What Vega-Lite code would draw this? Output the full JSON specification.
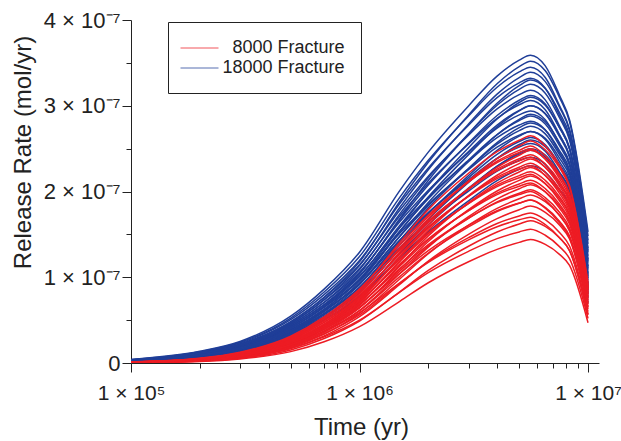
{
"$schema":"https://vega.github.io/schema/vega-lite/v6.json",
"autosize":{"type":"none"},
"padding":{"left":131,"top":20,"right":22,"bottom":78},
"width":468,"height":343,
"config":{"view":{"stroke":null},"font":"Liberation Sans"},
"data":{"values":[
{"s":"8000","i":1,"t":100000,"v":0.0043},{"s":"8000","i":1,"t":200000,"v":0.0187},{"s":"8000","i":1,"t":300000,"v":0.0475},{"s":"8000","i":1,"t":500000,"v":0.1325},{"s":"8000","i":1,"t":700000,"v":0.2477},{"s":"8000","i":1,"t":1000000,"v":0.4248},{"s":"8000","i":1,"t":1500000,"v":0.72},{"s":"8000","i":1,"t":2000000,"v":0.936},{"s":"8000","i":1,"t":3000000,"v":1.1808},{"s":"8000","i":1,"t":4000000,"v":1.3248},{"s":"8000","i":1,"t":5000000,"v":1.4069},{"s":"8000","i":1,"t":5600000,"v":1.44},{"s":"8000","i":1,"t":6500000,"v":1.3824},{"s":"8000","i":1,"t":7500000,"v":1.2672},{"s":"8000","i":1,"t":8300000,"v":1.1376},{"s":"8000","i":1,"t":10000000,"v":0.47},
{"s":"8000","i":2,"t":100000,"v":0.0062},{"s":"8000","i":2,"t":200000,"v":0.0281},{"s":"8000","i":2,"t":300000,"v":0.0655},{"s":"8000","i":2,"t":500000,"v":0.1716},{"s":"8000","i":2,"t":700000,"v":0.3042},{"s":"8000","i":2,"t":1000000,"v":0.4992},{"s":"8000","i":2,"t":1500000,"v":0.8268},{"s":"8000","i":2,"t":2000000,"v":1.053},{"s":"8000","i":2,"t":3000000,"v":1.3026},{"s":"8000","i":2,"t":4000000,"v":1.4508},{"s":"8000","i":2,"t":5000000,"v":1.5288},{"s":"8000","i":2,"t":5600000,"v":1.56},{"s":"8000","i":2,"t":6500000,"v":1.4898},{"s":"8000","i":2,"t":7500000,"v":1.3572},{"s":"8000","i":2,"t":8300000,"v":1.2168},{"s":"8000","i":2,"t":10000000,"v":0.52},
{"s":"8000","i":3,"t":100000,"v":0.005},{"s":"8000","i":3,"t":200000,"v":0.0216},{"s":"8000","i":3,"t":300000,"v":0.0548},{"s":"8000","i":3,"t":500000,"v":0.1527},{"s":"8000","i":3,"t":700000,"v":0.2855},{"s":"8000","i":3,"t":1000000,"v":0.4897},{"s":"8000","i":3,"t":1500000,"v":0.83},{"s":"8000","i":3,"t":2000000,"v":1.079},{"s":"8000","i":3,"t":3000000,"v":1.3612},{"s":"8000","i":3,"t":4000000,"v":1.5272},{"s":"8000","i":3,"t":5000000,"v":1.6218},{"s":"8000","i":3,"t":5600000,"v":1.66},{"s":"8000","i":3,"t":6500000,"v":1.5936},{"s":"8000","i":3,"t":7500000,"v":1.4608},{"s":"8000","i":3,"t":8300000,"v":1.3114},{"s":"8000","i":3,"t":10000000,"v":0.56},
{"s":"8000","i":4,"t":100000,"v":0.007},{"s":"8000","i":4,"t":200000,"v":0.0315},{"s":"8000","i":4,"t":300000,"v":0.0735},{"s":"8000","i":4,"t":500000,"v":0.1925},{"s":"8000","i":4,"t":700000,"v":0.3413},{"s":"8000","i":4,"t":1000000,"v":0.56},{"s":"8000","i":4,"t":1500000,"v":0.9275},{"s":"8000","i":4,"t":2000000,"v":1.1813},{"s":"8000","i":4,"t":3000000,"v":1.4613},{"s":"8000","i":4,"t":4000000,"v":1.6275},{"s":"8000","i":4,"t":5000000,"v":1.715},{"s":"8000","i":4,"t":5600000,"v":1.75},{"s":"8000","i":4,"t":6500000,"v":1.6713},{"s":"8000","i":4,"t":7500000,"v":1.5225},{"s":"8000","i":4,"t":8300000,"v":1.365},{"s":"8000","i":4,"t":10000000,"v":0.6},
{"s":"8000","i":5,"t":100000,"v":0.0055},{"s":"8000","i":5,"t":200000,"v":0.0238},{"s":"8000","i":5,"t":300000,"v":0.0604},{"s":"8000","i":5,"t":500000,"v":0.1684},{"s":"8000","i":5,"t":700000,"v":0.3148},{"s":"8000","i":5,"t":1000000,"v":0.5399},{"s":"8000","i":5,"t":1500000,"v":0.915},{"s":"8000","i":5,"t":2000000,"v":1.1895},{"s":"8000","i":5,"t":3000000,"v":1.5006},{"s":"8000","i":5,"t":4000000,"v":1.6836},{"s":"8000","i":5,"t":5000000,"v":1.7879},{"s":"8000","i":5,"t":5600000,"v":1.83},{"s":"8000","i":5,"t":6500000,"v":1.7568},{"s":"8000","i":5,"t":7500000,"v":1.6104},{"s":"8000","i":5,"t":8300000,"v":1.4457},{"s":"8000","i":5,"t":10000000,"v":0.63},
{"s":"8000","i":6,"t":100000,"v":0.0076},{"s":"8000","i":6,"t":200000,"v":0.0342},{"s":"8000","i":6,"t":300000,"v":0.0798},{"s":"8000","i":6,"t":500000,"v":0.209},{"s":"8000","i":6,"t":700000,"v":0.3705},{"s":"8000","i":6,"t":1000000,"v":0.608},{"s":"8000","i":6,"t":1500000,"v":1.007},{"s":"8000","i":6,"t":2000000,"v":1.2825},{"s":"8000","i":6,"t":3000000,"v":1.5865},{"s":"8000","i":6,"t":4000000,"v":1.767},{"s":"8000","i":6,"t":5000000,"v":1.862},{"s":"8000","i":6,"t":5600000,"v":1.9},{"s":"8000","i":6,"t":6500000,"v":1.8145},{"s":"8000","i":6,"t":7500000,"v":1.653},{"s":"8000","i":6,"t":8300000,"v":1.482},{"s":"8000","i":6,"t":10000000,"v":0.66},
{"s":"8000","i":7,"t":100000,"v":0.0059},{"s":"8000","i":7,"t":200000,"v":0.0255},{"s":"8000","i":7,"t":300000,"v":0.0647},{"s":"8000","i":7,"t":500000,"v":0.1803},{"s":"8000","i":7,"t":700000,"v":0.3371},{"s":"8000","i":7,"t":1000000,"v":0.5782},{"s":"8000","i":7,"t":1500000,"v":0.98},{"s":"8000","i":7,"t":2000000,"v":1.274},{"s":"8000","i":7,"t":3000000,"v":1.6072},{"s":"8000","i":7,"t":4000000,"v":1.8032},{"s":"8000","i":7,"t":5000000,"v":1.9149},{"s":"8000","i":7,"t":5600000,"v":1.96},{"s":"8000","i":7,"t":6500000,"v":1.8816},{"s":"8000","i":7,"t":7500000,"v":1.7248},{"s":"8000","i":7,"t":8300000,"v":1.5484},{"s":"8000","i":7,"t":10000000,"v":0.69},
{"s":"8000","i":8,"t":100000,"v":0.0081},{"s":"8000","i":8,"t":200000,"v":0.0364},{"s":"8000","i":8,"t":300000,"v":0.0848},{"s":"8000","i":8,"t":500000,"v":0.2222},{"s":"8000","i":8,"t":700000,"v":0.3939},{"s":"8000","i":8,"t":1000000,"v":0.6464},{"s":"8000","i":8,"t":1500000,"v":1.0706},{"s":"8000","i":8,"t":2000000,"v":1.3635},{"s":"8000","i":8,"t":3000000,"v":1.6867},{"s":"8000","i":8,"t":4000000,"v":1.8786},{"s":"8000","i":8,"t":5000000,"v":1.9796},{"s":"8000","i":8,"t":5600000,"v":2.02},{"s":"8000","i":8,"t":6500000,"v":1.9291},{"s":"8000","i":8,"t":7500000,"v":1.7574},{"s":"8000","i":8,"t":8300000,"v":1.5756},{"s":"8000","i":8,"t":10000000,"v":0.71},
{"s":"8000","i":9,"t":100000,"v":0.0062},{"s":"8000","i":9,"t":200000,"v":0.027},{"s":"8000","i":9,"t":300000,"v":0.0686},{"s":"8000","i":9,"t":500000,"v":0.1914},{"s":"8000","i":9,"t":700000,"v":0.3578},{"s":"8000","i":9,"t":1000000,"v":0.6136},{"s":"8000","i":9,"t":1500000,"v":1.04},{"s":"8000","i":9,"t":2000000,"v":1.352},{"s":"8000","i":9,"t":3000000,"v":1.7056},{"s":"8000","i":9,"t":4000000,"v":1.9136},{"s":"8000","i":9,"t":5000000,"v":2.0322},{"s":"8000","i":9,"t":5600000,"v":2.08},{"s":"8000","i":9,"t":6500000,"v":1.9968},{"s":"8000","i":9,"t":7500000,"v":1.8304},{"s":"8000","i":9,"t":8300000,"v":1.6432},{"s":"8000","i":9,"t":10000000,"v":0.74},
{"s":"8000","i":10,"t":100000,"v":0.0085},{"s":"8000","i":10,"t":200000,"v":0.0383},{"s":"8000","i":10,"t":300000,"v":0.0895},{"s":"8000","i":10,"t":500000,"v":0.2343},{"s":"8000","i":10,"t":700000,"v":0.4154},{"s":"8000","i":10,"t":1000000,"v":0.6816},{"s":"8000","i":10,"t":1500000,"v":1.1289},{"s":"8000","i":10,"t":2000000,"v":1.4378},{"s":"8000","i":10,"t":3000000,"v":1.7786},{"s":"8000","i":10,"t":4000000,"v":1.9809},{"s":"8000","i":10,"t":5000000,"v":2.0874},{"s":"8000","i":10,"t":5600000,"v":2.13},{"s":"8000","i":10,"t":6500000,"v":2.0342},{"s":"8000","i":10,"t":7500000,"v":1.8531},{"s":"8000","i":10,"t":8300000,"v":1.6614},{"s":"8000","i":10,"t":10000000,"v":0.76},
{"s":"8000","i":11,"t":100000,"v":0.0065},{"s":"8000","i":11,"t":200000,"v":0.0283},{"s":"8000","i":11,"t":300000,"v":0.0719},{"s":"8000","i":11,"t":500000,"v":0.2006},{"s":"8000","i":11,"t":700000,"v":0.375},{"s":"8000","i":11,"t":1000000,"v":0.6431},{"s":"8000","i":11,"t":1500000,"v":1.09},{"s":"8000","i":11,"t":2000000,"v":1.417},{"s":"8000","i":11,"t":3000000,"v":1.7876},{"s":"8000","i":11,"t":4000000,"v":2.0056},{"s":"8000","i":11,"t":5000000,"v":2.1299},{"s":"8000","i":11,"t":5600000,"v":2.18},{"s":"8000","i":11,"t":6500000,"v":2.0928},{"s":"8000","i":11,"t":7500000,"v":1.9184},{"s":"8000","i":11,"t":8300000,"v":1.7222},{"s":"8000","i":11,"t":10000000,"v":0.78},
{"s":"8000","i":12,"t":100000,"v":0.0089},{"s":"8000","i":12,"t":200000,"v":0.0401},{"s":"8000","i":12,"t":300000,"v":0.0937},{"s":"8000","i":12,"t":500000,"v":0.2453},{"s":"8000","i":12,"t":700000,"v":0.4349},{"s":"8000","i":12,"t":1000000,"v":0.7136},{"s":"8000","i":12,"t":1500000,"v":1.1819},{"s":"8000","i":12,"t":2000000,"v":1.5053},{"s":"8000","i":12,"t":3000000,"v":1.8621},{"s":"8000","i":12,"t":4000000,"v":2.0739},{"s":"8000","i":12,"t":5000000,"v":2.1854},{"s":"8000","i":12,"t":5600000,"v":2.23},{"s":"8000","i":12,"t":6500000,"v":2.1297},{"s":"8000","i":12,"t":7500000,"v":1.9401},{"s":"8000","i":12,"t":8300000,"v":1.7394},{"s":"8000","i":12,"t":10000000,"v":0.8},
{"s":"8000","i":13,"t":100000,"v":0.0068},{"s":"8000","i":13,"t":200000,"v":0.0296},{"s":"8000","i":13,"t":300000,"v":0.0752},{"s":"8000","i":13,"t":500000,"v":0.2098},{"s":"8000","i":13,"t":700000,"v":0.3922},{"s":"8000","i":13,"t":1000000,"v":0.6726},{"s":"8000","i":13,"t":1500000,"v":1.14},{"s":"8000","i":13,"t":2000000,"v":1.482},{"s":"8000","i":13,"t":3000000,"v":1.8696},{"s":"8000","i":13,"t":4000000,"v":2.0976},{"s":"8000","i":13,"t":5000000,"v":2.2276},{"s":"8000","i":13,"t":5600000,"v":2.28},{"s":"8000","i":13,"t":6500000,"v":2.1888},{"s":"8000","i":13,"t":7500000,"v":2.0064},{"s":"8000","i":13,"t":8300000,"v":1.8012},{"s":"8000","i":13,"t":10000000,"v":0.82},
{"s":"8000","i":14,"t":100000,"v":0.0093},{"s":"8000","i":14,"t":200000,"v":0.0419},{"s":"8000","i":14,"t":300000,"v":0.0979},{"s":"8000","i":14,"t":500000,"v":0.2563},{"s":"8000","i":14,"t":700000,"v":0.4544},{"s":"8000","i":14,"t":1000000,"v":0.7456},{"s":"8000","i":14,"t":1500000,"v":1.2349},{"s":"8000","i":14,"t":2000000,"v":1.5728},{"s":"8000","i":14,"t":3000000,"v":1.9456},{"s":"8000","i":14,"t":4000000,"v":2.1669},{"s":"8000","i":14,"t":5000000,"v":2.2834},{"s":"8000","i":14,"t":5600000,"v":2.33},{"s":"8000","i":14,"t":6500000,"v":2.2252},{"s":"8000","i":14,"t":7500000,"v":2.0271},{"s":"8000","i":14,"t":8300000,"v":1.8174},{"s":"8000","i":14,"t":10000000,"v":0.84},
{"s":"8000","i":15,"t":100000,"v":0.0071},{"s":"8000","i":15,"t":200000,"v":0.0309},{"s":"8000","i":15,"t":300000,"v":0.0785},{"s":"8000","i":15,"t":500000,"v":0.219},{"s":"8000","i":15,"t":700000,"v":0.4094},{"s":"8000","i":15,"t":1000000,"v":0.7021},{"s":"8000","i":15,"t":1500000,"v":1.19},{"s":"8000","i":15,"t":2000000,"v":1.547},{"s":"8000","i":15,"t":3000000,"v":1.9516},{"s":"8000","i":15,"t":4000000,"v":2.1896},{"s":"8000","i":15,"t":5000000,"v":2.3253},{"s":"8000","i":15,"t":5600000,"v":2.38},{"s":"8000","i":15,"t":6500000,"v":2.2848},{"s":"8000","i":15,"t":7500000,"v":2.0944},{"s":"8000","i":15,"t":8300000,"v":1.8802},{"s":"8000","i":15,"t":10000000,"v":0.86},
{"s":"8000","i":16,"t":100000,"v":0.0097},{"s":"8000","i":16,"t":200000,"v":0.0437},{"s":"8000","i":16,"t":300000,"v":0.1021},{"s":"8000","i":16,"t":500000,"v":0.2673},{"s":"8000","i":16,"t":700000,"v":0.4739},{"s":"8000","i":16,"t":1000000,"v":0.7776},{"s":"8000","i":16,"t":1500000,"v":1.2879},{"s":"8000","i":16,"t":2000000,"v":1.6403},{"s":"8000","i":16,"t":3000000,"v":2.0291},{"s":"8000","i":16,"t":4000000,"v":2.2599},{"s":"8000","i":16,"t":5000000,"v":2.3814},{"s":"8000","i":16,"t":5600000,"v":2.43},{"s":"8000","i":16,"t":6500000,"v":2.3207},{"s":"8000","i":16,"t":7500000,"v":2.1141},{"s":"8000","i":16,"t":8300000,"v":1.8954},{"s":"8000","i":16,"t":10000000,"v":0.87},
{"s":"8000","i":17,"t":100000,"v":0.0074},{"s":"8000","i":17,"t":200000,"v":0.0322},{"s":"8000","i":17,"t":300000,"v":0.0818},{"s":"8000","i":17,"t":500000,"v":0.2282},{"s":"8000","i":17,"t":700000,"v":0.4266},{"s":"8000","i":17,"t":1000000,"v":0.7316},{"s":"8000","i":17,"t":1500000,"v":1.24},{"s":"8000","i":17,"t":2000000,"v":1.612},{"s":"8000","i":17,"t":3000000,"v":2.0336},{"s":"8000","i":17,"t":4000000,"v":2.2816},{"s":"8000","i":17,"t":5000000,"v":2.423},{"s":"8000","i":17,"t":5600000,"v":2.48},{"s":"8000","i":17,"t":6500000,"v":2.3808},{"s":"8000","i":17,"t":7500000,"v":2.1824},{"s":"8000","i":17,"t":8300000,"v":1.9592},{"s":"8000","i":17,"t":10000000,"v":0.89},
{"s":"8000","i":18,"t":100000,"v":0.0101},{"s":"8000","i":18,"t":200000,"v":0.0455},{"s":"8000","i":18,"t":300000,"v":0.1063},{"s":"8000","i":18,"t":500000,"v":0.2783},{"s":"8000","i":18,"t":700000,"v":0.4934},{"s":"8000","i":18,"t":1000000,"v":0.8096},{"s":"8000","i":18,"t":1500000,"v":1.3409},{"s":"8000","i":18,"t":2000000,"v":1.7078},{"s":"8000","i":18,"t":3000000,"v":2.1126},{"s":"8000","i":18,"t":4000000,"v":2.3529},{"s":"8000","i":18,"t":5000000,"v":2.4794},{"s":"8000","i":18,"t":5600000,"v":2.53},{"s":"8000","i":18,"t":6500000,"v":2.4162},{"s":"8000","i":18,"t":7500000,"v":2.2011},{"s":"8000","i":18,"t":8300000,"v":1.9734},{"s":"8000","i":18,"t":10000000,"v":0.9},
{"s":"8000","i":19,"t":100000,"v":0.0078},{"s":"8000","i":19,"t":200000,"v":0.0337},{"s":"8000","i":19,"t":300000,"v":0.0855},{"s":"8000","i":19,"t":500000,"v":0.2383},{"s":"8000","i":19,"t":700000,"v":0.4455},{"s":"8000","i":19,"t":1000000,"v":0.7641},{"s":"8000","i":19,"t":1500000,"v":1.295},{"s":"8000","i":19,"t":2000000,"v":1.6835},{"s":"8000","i":19,"t":3000000,"v":2.1238},{"s":"8000","i":19,"t":4000000,"v":2.3828},{"s":"8000","i":19,"t":5000000,"v":2.5304},{"s":"8000","i":19,"t":5600000,"v":2.59},{"s":"8000","i":19,"t":6500000,"v":2.4864},{"s":"8000","i":19,"t":7500000,"v":2.2792},{"s":"8000","i":19,"t":8300000,"v":2.0461},{"s":"8000","i":19,"t":10000000,"v":0.92},
{"s":"8000","i":20,"t":100000,"v":0.0106},{"s":"8000","i":20,"t":200000,"v":0.0477},{"s":"8000","i":20,"t":300000,"v":0.1113},{"s":"8000","i":20,"t":500000,"v":0.2915},{"s":"8000","i":20,"t":700000,"v":0.5168},{"s":"8000","i":20,"t":1000000,"v":0.848},{"s":"8000","i":20,"t":1500000,"v":1.4045},{"s":"8000","i":20,"t":2000000,"v":1.7888},{"s":"8000","i":20,"t":3000000,"v":2.2128},{"s":"8000","i":20,"t":4000000,"v":2.4645},{"s":"8000","i":20,"t":5000000,"v":2.597},{"s":"8000","i":20,"t":5600000,"v":2.65},{"s":"8000","i":20,"t":6500000,"v":2.5308},{"s":"8000","i":20,"t":7500000,"v":2.3055},{"s":"8000","i":20,"t":8300000,"v":2.067},{"s":"8000","i":20,"t":10000000,"v":0.94},
{"s":"8000","i":41,"t":100000,"v":0.0085},{"s":"8000","i":41,"t":200000,"v":0.0374},{"s":"8000","i":41,"t":300000,"v":0.085},{"s":"8000","i":41,"t":500000,"v":0.2125},{"s":"8000","i":41,"t":700000,"v":0.3655},{"s":"8000","i":41,"t":1000000,"v":0.5865},{"s":"8000","i":41,"t":1500000,"v":0.935},{"s":"8000","i":41,"t":2000000,"v":1.173},{"s":"8000","i":41,"t":3000000,"v":1.4365},{"s":"8000","i":41,"t":4000000,"v":1.5895},{"s":"8000","i":41,"t":5000000,"v":1.6694},{"s":"8000","i":41,"t":5600000,"v":1.7},{"s":"8000","i":41,"t":6500000,"v":1.615},{"s":"8000","i":41,"t":7500000,"v":1.462},{"s":"8000","i":41,"t":8300000,"v":1.309},{"s":"8000","i":41,"t":10000000,"v":0.57},
{"s":"8000","i":42,"t":100000,"v":0.0095},{"s":"8000","i":42,"t":200000,"v":0.0418},{"s":"8000","i":42,"t":300000,"v":0.095},{"s":"8000","i":42,"t":500000,"v":0.2375},{"s":"8000","i":42,"t":700000,"v":0.4085},{"s":"8000","i":42,"t":1000000,"v":0.6555},{"s":"8000","i":42,"t":1500000,"v":1.045},{"s":"8000","i":42,"t":2000000,"v":1.311},{"s":"8000","i":42,"t":3000000,"v":1.6055},{"s":"8000","i":42,"t":4000000,"v":1.7765},{"s":"8000","i":42,"t":5000000,"v":1.8658},{"s":"8000","i":42,"t":5600000,"v":1.9},{"s":"8000","i":42,"t":6500000,"v":1.805},{"s":"8000","i":42,"t":7500000,"v":1.634},{"s":"8000","i":42,"t":8300000,"v":1.463},{"s":"8000","i":42,"t":10000000,"v":0.65},
{"s":"8000","i":43,"t":100000,"v":0.01},{"s":"8000","i":43,"t":200000,"v":0.044},{"s":"8000","i":43,"t":300000,"v":0.1},{"s":"8000","i":43,"t":500000,"v":0.25},{"s":"8000","i":43,"t":700000,"v":0.43},{"s":"8000","i":43,"t":1000000,"v":0.69},{"s":"8000","i":43,"t":1500000,"v":1.1},{"s":"8000","i":43,"t":2000000,"v":1.38},{"s":"8000","i":43,"t":3000000,"v":1.69},{"s":"8000","i":43,"t":4000000,"v":1.87},{"s":"8000","i":43,"t":5000000,"v":1.964},{"s":"8000","i":43,"t":5600000,"v":2.0},{"s":"8000","i":43,"t":6500000,"v":1.9},{"s":"8000","i":43,"t":7500000,"v":1.72},{"s":"8000","i":43,"t":8300000,"v":1.54},{"s":"8000","i":43,"t":10000000,"v":0.69},
{"s":"8000","i":44,"t":100000,"v":0.0105},{"s":"8000","i":44,"t":200000,"v":0.0462},{"s":"8000","i":44,"t":300000,"v":0.105},{"s":"8000","i":44,"t":500000,"v":0.2625},{"s":"8000","i":44,"t":700000,"v":0.4515},{"s":"8000","i":44,"t":1000000,"v":0.7245},{"s":"8000","i":44,"t":1500000,"v":1.155},{"s":"8000","i":44,"t":2000000,"v":1.449},{"s":"8000","i":44,"t":3000000,"v":1.7745},{"s":"8000","i":44,"t":4000000,"v":1.9635},{"s":"8000","i":44,"t":5000000,"v":2.0622},{"s":"8000","i":44,"t":5600000,"v":2.1},{"s":"8000","i":44,"t":6500000,"v":1.995},{"s":"8000","i":44,"t":7500000,"v":1.806},{"s":"8000","i":44,"t":8300000,"v":1.617},{"s":"8000","i":44,"t":10000000,"v":0.73},
{"s":"8000","i":45,"t":100000,"v":0.011},{"s":"8000","i":45,"t":200000,"v":0.0484},{"s":"8000","i":45,"t":300000,"v":0.11},{"s":"8000","i":45,"t":500000,"v":0.275},{"s":"8000","i":45,"t":700000,"v":0.473},{"s":"8000","i":45,"t":1000000,"v":0.759},{"s":"8000","i":45,"t":1500000,"v":1.21},{"s":"8000","i":45,"t":2000000,"v":1.518},{"s":"8000","i":45,"t":3000000,"v":1.859},{"s":"8000","i":45,"t":4000000,"v":2.057},{"s":"8000","i":45,"t":5000000,"v":2.1604},{"s":"8000","i":45,"t":5600000,"v":2.2},{"s":"8000","i":45,"t":6500000,"v":2.09},{"s":"8000","i":45,"t":7500000,"v":1.892},{"s":"8000","i":45,"t":8300000,"v":1.694},{"s":"8000","i":45,"t":10000000,"v":0.77},
{"s":"8000","i":46,"t":100000,"v":0.0115},{"s":"8000","i":46,"t":200000,"v":0.0506},{"s":"8000","i":46,"t":300000,"v":0.115},{"s":"8000","i":46,"t":500000,"v":0.2875},{"s":"8000","i":46,"t":700000,"v":0.4945},{"s":"8000","i":46,"t":1000000,"v":0.7935},{"s":"8000","i":46,"t":1500000,"v":1.265},{"s":"8000","i":46,"t":2000000,"v":1.587},{"s":"8000","i":46,"t":3000000,"v":1.9435},{"s":"8000","i":46,"t":4000000,"v":2.1505},{"s":"8000","i":46,"t":5000000,"v":2.2586},{"s":"8000","i":46,"t":5600000,"v":2.3},{"s":"8000","i":46,"t":6500000,"v":2.185},{"s":"8000","i":46,"t":7500000,"v":1.978},{"s":"8000","i":46,"t":8300000,"v":1.771},{"s":"8000","i":46,"t":10000000,"v":0.81},
{"s":"8000","i":47,"t":100000,"v":0.012},{"s":"8000","i":47,"t":200000,"v":0.0528},{"s":"8000","i":47,"t":300000,"v":0.12},{"s":"8000","i":47,"t":500000,"v":0.3},{"s":"8000","i":47,"t":700000,"v":0.516},{"s":"8000","i":47,"t":1000000,"v":0.828},{"s":"8000","i":47,"t":1500000,"v":1.32},{"s":"8000","i":47,"t":2000000,"v":1.656},{"s":"8000","i":47,"t":3000000,"v":2.028},{"s":"8000","i":47,"t":4000000,"v":2.244},{"s":"8000","i":47,"t":5000000,"v":2.3568},{"s":"8000","i":47,"t":5600000,"v":2.4},{"s":"8000","i":47,"t":6500000,"v":2.28},{"s":"8000","i":47,"t":7500000,"v":2.064},{"s":"8000","i":47,"t":8300000,"v":1.848},{"s":"8000","i":47,"t":10000000,"v":0.85},
{"s":"8000","i":48,"t":100000,"v":0.0125},{"s":"8000","i":48,"t":200000,"v":0.055},{"s":"8000","i":48,"t":300000,"v":0.125},{"s":"8000","i":48,"t":500000,"v":0.3125},{"s":"8000","i":48,"t":700000,"v":0.5375},{"s":"8000","i":48,"t":1000000,"v":0.8625},{"s":"8000","i":48,"t":1500000,"v":1.375},{"s":"8000","i":48,"t":2000000,"v":1.725},{"s":"8000","i":48,"t":3000000,"v":2.1125},{"s":"8000","i":48,"t":4000000,"v":2.3375},{"s":"8000","i":48,"t":5000000,"v":2.455},{"s":"8000","i":48,"t":5600000,"v":2.5},{"s":"8000","i":48,"t":6500000,"v":2.375},{"s":"8000","i":48,"t":7500000,"v":2.15},{"s":"8000","i":48,"t":8300000,"v":1.925},{"s":"8000","i":48,"t":10000000,"v":0.88},
{"s":"18000","i":21,"t":100000,"v":0.0207},{"s":"18000","i":21,"t":200000,"v":0.0736},{"s":"18000","i":21,"t":300000,"v":0.138},{"s":"18000","i":21,"t":500000,"v":0.3105},{"s":"18000","i":21,"t":700000,"v":0.5014},{"s":"18000","i":21,"t":1000000,"v":0.7705},{"s":"18000","i":21,"t":1500000,"v":1.2305},{"s":"18000","i":21,"t":2000000,"v":1.5295},{"s":"18000","i":21,"t":3000000,"v":1.8906},{"s":"18000","i":21,"t":4000000,"v":2.1275},{"s":"18000","i":21,"t":5000000,"v":2.2586},{"s":"18000","i":21,"t":5600000,"v":2.3},{"s":"18000","i":21,"t":6500000,"v":2.2264},{"s":"18000","i":21,"t":7500000,"v":2.024},{"s":"18000","i":21,"t":8300000,"v":1.84},{"s":"18000","i":21,"t":10000000,"v":0.7},
{"s":"18000","i":22,"t":100000,"v":0.0264},{"s":"18000","i":22,"t":200000,"v":0.0912},{"s":"18000","i":22,"t":300000,"v":0.168},{"s":"18000","i":22,"t":500000,"v":0.3648},{"s":"18000","i":22,"t":700000,"v":0.576},{"s":"18000","i":22,"t":1000000,"v":0.864},{"s":"18000","i":22,"t":1500000,"v":1.344},{"s":"18000","i":22,"t":2000000,"v":1.644},{"s":"18000","i":22,"t":3000000,"v":2.004},{"s":"18000","i":22,"t":4000000,"v":2.2368},{"s":"18000","i":22,"t":5000000,"v":2.3616},{"s":"18000","i":22,"t":5600000,"v":2.4},{"s":"18000","i":22,"t":6500000,"v":2.316},{"s":"18000","i":22,"t":7500000,"v":2.088},{"s":"18000","i":22,"t":8300000,"v":1.896},{"s":"18000","i":22,"t":10000000,"v":0.76},
{"s":"18000","i":23,"t":100000,"v":0.0223},{"s":"18000","i":23,"t":200000,"v":0.0794},{"s":"18000","i":23,"t":300000,"v":0.1488},{"s":"18000","i":23,"t":500000,"v":0.3348},{"s":"18000","i":23,"t":700000,"v":0.5406},{"s":"18000","i":23,"t":1000000,"v":0.8308},{"s":"18000","i":23,"t":1500000,"v":1.3268},{"s":"18000","i":23,"t":2000000,"v":1.6492},{"s":"18000","i":23,"t":3000000,"v":2.0386},{"s":"18000","i":23,"t":4000000,"v":2.294},{"s":"18000","i":23,"t":5000000,"v":2.4354},{"s":"18000","i":23,"t":5600000,"v":2.48},{"s":"18000","i":23,"t":6500000,"v":2.4006},{"s":"18000","i":23,"t":7500000,"v":2.1824},{"s":"18000","i":23,"t":8300000,"v":1.984},{"s":"18000","i":23,"t":10000000,"v":0.8},
{"s":"18000","i":24,"t":100000,"v":0.0282},{"s":"18000","i":24,"t":200000,"v":0.0973},{"s":"18000","i":24,"t":300000,"v":0.1792},{"s":"18000","i":24,"t":500000,"v":0.3891},{"s":"18000","i":24,"t":700000,"v":0.6144},{"s":"18000","i":24,"t":1000000,"v":0.9216},{"s":"18000","i":24,"t":1500000,"v":1.4336},{"s":"18000","i":24,"t":2000000,"v":1.7536},{"s":"18000","i":24,"t":3000000,"v":2.1376},{"s":"18000","i":24,"t":4000000,"v":2.3859},{"s":"18000","i":24,"t":5000000,"v":2.519},{"s":"18000","i":24,"t":5600000,"v":2.56},{"s":"18000","i":24,"t":6500000,"v":2.4704},{"s":"18000","i":24,"t":7500000,"v":2.2272},{"s":"18000","i":24,"t":8300000,"v":2.0224},{"s":"18000","i":24,"t":10000000,"v":0.85},
{"s":"18000","i":25,"t":100000,"v":0.0237},{"s":"18000","i":25,"t":200000,"v":0.0842},{"s":"18000","i":25,"t":300000,"v":0.1578},{"s":"18000","i":25,"t":500000,"v":0.3551},{"s":"18000","i":25,"t":700000,"v":0.5733},{"s":"18000","i":25,"t":1000000,"v":0.8811},{"s":"18000","i":25,"t":1500000,"v":1.4071},{"s":"18000","i":25,"t":2000000,"v":1.749},{"s":"18000","i":25,"t":3000000,"v":2.1619},{"s":"18000","i":25,"t":4000000,"v":2.4328},{"s":"18000","i":25,"t":5000000,"v":2.5827},{"s":"18000","i":25,"t":5600000,"v":2.63},{"s":"18000","i":25,"t":6500000,"v":2.5458},{"s":"18000","i":25,"t":7500000,"v":2.3144},{"s":"18000","i":25,"t":8300000,"v":2.104},{"s":"18000","i":25,"t":10000000,"v":0.89},
{"s":"18000","i":26,"t":100000,"v":0.0297},{"s":"18000","i":26,"t":200000,"v":0.1026},{"s":"18000","i":26,"t":300000,"v":0.189},{"s":"18000","i":26,"t":500000,"v":0.4104},{"s":"18000","i":26,"t":700000,"v":0.648},{"s":"18000","i":26,"t":1000000,"v":0.972},{"s":"18000","i":26,"t":1500000,"v":1.512},{"s":"18000","i":26,"t":2000000,"v":1.8495},{"s":"18000","i":26,"t":3000000,"v":2.2545},{"s":"18000","i":26,"t":4000000,"v":2.5164},{"s":"18000","i":26,"t":5000000,"v":2.6568},{"s":"18000","i":26,"t":5600000,"v":2.7},{"s":"18000","i":26,"t":6500000,"v":2.6055},{"s":"18000","i":26,"t":7500000,"v":2.349},{"s":"18000","i":26,"t":8300000,"v":2.133},{"s":"18000","i":26,"t":10000000,"v":0.93},
{"s":"18000","i":27,"t":100000,"v":0.0248},{"s":"18000","i":27,"t":200000,"v":0.0883},{"s":"18000","i":27,"t":300000,"v":0.1656},{"s":"18000","i":27,"t":500000,"v":0.3726},{"s":"18000","i":27,"t":700000,"v":0.6017},{"s":"18000","i":27,"t":1000000,"v":0.9246},{"s":"18000","i":27,"t":1500000,"v":1.4766},{"s":"18000","i":27,"t":2000000,"v":1.8354},{"s":"18000","i":27,"t":3000000,"v":2.2687},{"s":"18000","i":27,"t":4000000,"v":2.553},{"s":"18000","i":27,"t":5000000,"v":2.7103},{"s":"18000","i":27,"t":5600000,"v":2.76},{"s":"18000","i":27,"t":6500000,"v":2.6717},{"s":"18000","i":27,"t":7500000,"v":2.4288},{"s":"18000","i":27,"t":8300000,"v":2.208},{"s":"18000","i":27,"t":10000000,"v":0.97},
{"s":"18000","i":28,"t":100000,"v":0.031},{"s":"18000","i":28,"t":200000,"v":0.1072},{"s":"18000","i":28,"t":300000,"v":0.1974},{"s":"18000","i":28,"t":500000,"v":0.4286},{"s":"18000","i":28,"t":700000,"v":0.6768},{"s":"18000","i":28,"t":1000000,"v":1.0152},{"s":"18000","i":28,"t":1500000,"v":1.5792},{"s":"18000","i":28,"t":2000000,"v":1.9317},{"s":"18000","i":28,"t":3000000,"v":2.3547},{"s":"18000","i":28,"t":4000000,"v":2.6282},{"s":"18000","i":28,"t":5000000,"v":2.7749},{"s":"18000","i":28,"t":5600000,"v":2.82},{"s":"18000","i":28,"t":6500000,"v":2.7213},{"s":"18000","i":28,"t":7500000,"v":2.4534},{"s":"18000","i":28,"t":8300000,"v":2.2278},{"s":"18000","i":28,"t":10000000,"v":1.01},
{"s":"18000","i":29,"t":100000,"v":0.0259},{"s":"18000","i":29,"t":200000,"v":0.0922},{"s":"18000","i":29,"t":300000,"v":0.1728},{"s":"18000","i":29,"t":500000,"v":0.3888},{"s":"18000","i":29,"t":700000,"v":0.6278},{"s":"18000","i":29,"t":1000000,"v":0.9648},{"s":"18000","i":29,"t":1500000,"v":1.5408},{"s":"18000","i":29,"t":2000000,"v":1.9152},{"s":"18000","i":29,"t":3000000,"v":2.3674},{"s":"18000","i":29,"t":4000000,"v":2.664},{"s":"18000","i":29,"t":5000000,"v":2.8282},{"s":"18000","i":29,"t":5600000,"v":2.88},{"s":"18000","i":29,"t":6500000,"v":2.7878},{"s":"18000","i":29,"t":7500000,"v":2.5344},{"s":"18000","i":29,"t":8300000,"v":2.304},{"s":"18000","i":29,"t":10000000,"v":1.05},
{"s":"18000","i":30,"t":100000,"v":0.0323},{"s":"18000","i":30,"t":200000,"v":0.1117},{"s":"18000","i":30,"t":300000,"v":0.2058},{"s":"18000","i":30,"t":500000,"v":0.4469},{"s":"18000","i":30,"t":700000,"v":0.7056},{"s":"18000","i":30,"t":1000000,"v":1.0584},{"s":"18000","i":30,"t":1500000,"v":1.6464},{"s":"18000","i":30,"t":2000000,"v":2.0139},{"s":"18000","i":30,"t":3000000,"v":2.4549},{"s":"18000","i":30,"t":4000000,"v":2.7401},{"s":"18000","i":30,"t":5000000,"v":2.893},{"s":"18000","i":30,"t":5600000,"v":2.94},{"s":"18000","i":30,"t":6500000,"v":2.8371},{"s":"18000","i":30,"t":7500000,"v":2.5578},{"s":"18000","i":30,"t":8300000,"v":2.3226},{"s":"18000","i":30,"t":10000000,"v":1.09},
{"s":"18000","i":31,"t":100000,"v":0.027},{"s":"18000","i":31,"t":200000,"v":0.096},{"s":"18000","i":31,"t":300000,"v":0.18},{"s":"18000","i":31,"t":500000,"v":0.405},{"s":"18000","i":31,"t":700000,"v":0.654},{"s":"18000","i":31,"t":1000000,"v":1.005},{"s":"18000","i":31,"t":1500000,"v":1.605},{"s":"18000","i":31,"t":2000000,"v":1.995},{"s":"18000","i":31,"t":3000000,"v":2.466},{"s":"18000","i":31,"t":4000000,"v":2.775},{"s":"18000","i":31,"t":5000000,"v":2.946},{"s":"18000","i":31,"t":5600000,"v":3.0},{"s":"18000","i":31,"t":6500000,"v":2.904},{"s":"18000","i":31,"t":7500000,"v":2.64},{"s":"18000","i":31,"t":8300000,"v":2.4},{"s":"18000","i":31,"t":10000000,"v":1.13},
{"s":"18000","i":32,"t":100000,"v":0.0337},{"s":"18000","i":32,"t":200000,"v":0.1163},{"s":"18000","i":32,"t":300000,"v":0.2142},{"s":"18000","i":32,"t":500000,"v":0.4651},{"s":"18000","i":32,"t":700000,"v":0.7344},{"s":"18000","i":32,"t":1000000,"v":1.1016},{"s":"18000","i":32,"t":1500000,"v":1.7136},{"s":"18000","i":32,"t":2000000,"v":2.0961},{"s":"18000","i":32,"t":3000000,"v":2.5551},{"s":"18000","i":32,"t":4000000,"v":2.8519},{"s":"18000","i":32,"t":5000000,"v":3.011},{"s":"18000","i":32,"t":5600000,"v":3.06},{"s":"18000","i":32,"t":6500000,"v":2.9529},{"s":"18000","i":32,"t":7500000,"v":2.6622},{"s":"18000","i":32,"t":8300000,"v":2.4174},{"s":"18000","i":32,"t":10000000,"v":1.17},
{"s":"18000","i":33,"t":100000,"v":0.0281},{"s":"18000","i":33,"t":200000,"v":0.0998},{"s":"18000","i":33,"t":300000,"v":0.1872},{"s":"18000","i":33,"t":500000,"v":0.4212},{"s":"18000","i":33,"t":700000,"v":0.6802},{"s":"18000","i":33,"t":1000000,"v":1.0452},{"s":"18000","i":33,"t":1500000,"v":1.6692},{"s":"18000","i":33,"t":2000000,"v":2.0748},{"s":"18000","i":33,"t":3000000,"v":2.5646},{"s":"18000","i":33,"t":4000000,"v":2.886},{"s":"18000","i":33,"t":5000000,"v":3.0638},{"s":"18000","i":33,"t":5600000,"v":3.12},{"s":"18000","i":33,"t":6500000,"v":3.0202},{"s":"18000","i":33,"t":7500000,"v":2.7456},{"s":"18000","i":33,"t":8300000,"v":2.496},{"s":"18000","i":33,"t":10000000,"v":1.21},
{"s":"18000","i":34,"t":100000,"v":0.035},{"s":"18000","i":34,"t":200000,"v":0.1208},{"s":"18000","i":34,"t":300000,"v":0.2226},{"s":"18000","i":34,"t":500000,"v":0.4834},{"s":"18000","i":34,"t":700000,"v":0.7632},{"s":"18000","i":34,"t":1000000,"v":1.1448},{"s":"18000","i":34,"t":1500000,"v":1.7808},{"s":"18000","i":34,"t":2000000,"v":2.1783},{"s":"18000","i":34,"t":3000000,"v":2.6553},{"s":"18000","i":34,"t":4000000,"v":2.9638},{"s":"18000","i":34,"t":5000000,"v":3.1291},{"s":"18000","i":34,"t":5600000,"v":3.18},{"s":"18000","i":34,"t":6500000,"v":3.0687},{"s":"18000","i":34,"t":7500000,"v":2.7666},{"s":"18000","i":34,"t":8300000,"v":2.5122},{"s":"18000","i":34,"t":10000000,"v":1.25},
{"s":"18000","i":35,"t":100000,"v":0.0293},{"s":"18000","i":35,"t":200000,"v":0.104},{"s":"18000","i":35,"t":300000,"v":0.195},{"s":"18000","i":35,"t":500000,"v":0.4388},{"s":"18000","i":35,"t":700000,"v":0.7085},{"s":"18000","i":35,"t":1000000,"v":1.0888},{"s":"18000","i":35,"t":1500000,"v":1.7388},{"s":"18000","i":35,"t":2000000,"v":2.1613},{"s":"18000","i":35,"t":3000000,"v":2.6715},{"s":"18000","i":35,"t":4000000,"v":3.0063},{"s":"18000","i":35,"t":5000000,"v":3.1915},{"s":"18000","i":35,"t":5600000,"v":3.25},{"s":"18000","i":35,"t":6500000,"v":3.146},{"s":"18000","i":35,"t":7500000,"v":2.86},{"s":"18000","i":35,"t":8300000,"v":2.6},{"s":"18000","i":35,"t":10000000,"v":1.29},
{"s":"18000","i":36,"t":100000,"v":0.0365},{"s":"18000","i":36,"t":200000,"v":0.1262},{"s":"18000","i":36,"t":300000,"v":0.2324},{"s":"18000","i":36,"t":500000,"v":0.5046},{"s":"18000","i":36,"t":700000,"v":0.7968},{"s":"18000","i":36,"t":1000000,"v":1.1952},{"s":"18000","i":36,"t":1500000,"v":1.8592},{"s":"18000","i":36,"t":2000000,"v":2.2742},{"s":"18000","i":36,"t":3000000,"v":2.7722},{"s":"18000","i":36,"t":4000000,"v":3.0942},{"s":"18000","i":36,"t":5000000,"v":3.2669},{"s":"18000","i":36,"t":5600000,"v":3.32},{"s":"18000","i":36,"t":6500000,"v":3.2038},{"s":"18000","i":36,"t":7500000,"v":2.8884},{"s":"18000","i":36,"t":8300000,"v":2.6228},{"s":"18000","i":36,"t":10000000,"v":1.34},
{"s":"18000","i":37,"t":100000,"v":0.0305},{"s":"18000","i":37,"t":200000,"v":0.1085},{"s":"18000","i":37,"t":300000,"v":0.2034},{"s":"18000","i":37,"t":500000,"v":0.4577},{"s":"18000","i":37,"t":700000,"v":0.739},{"s":"18000","i":37,"t":1000000,"v":1.1357},{"s":"18000","i":37,"t":1500000,"v":1.8137},{"s":"18000","i":37,"t":2000000,"v":2.2544},{"s":"18000","i":37,"t":3000000,"v":2.7866},{"s":"18000","i":37,"t":4000000,"v":3.1358},{"s":"18000","i":37,"t":5000000,"v":3.329},{"s":"18000","i":37,"t":5600000,"v":3.39},{"s":"18000","i":37,"t":6500000,"v":3.2815},{"s":"18000","i":37,"t":7500000,"v":2.9832},{"s":"18000","i":37,"t":8300000,"v":2.712},{"s":"18000","i":37,"t":10000000,"v":1.39},
{"s":"18000","i":38,"t":100000,"v":0.038},{"s":"18000","i":38,"t":200000,"v":0.1311},{"s":"18000","i":38,"t":300000,"v":0.2415},{"s":"18000","i":38,"t":500000,"v":0.5244},{"s":"18000","i":38,"t":700000,"v":0.828},{"s":"18000","i":38,"t":1000000,"v":1.242},{"s":"18000","i":38,"t":1500000,"v":1.932},{"s":"18000","i":38,"t":2000000,"v":2.3633},{"s":"18000","i":38,"t":3000000,"v":2.8808},{"s":"18000","i":38,"t":4000000,"v":3.2154},{"s":"18000","i":38,"t":5000000,"v":3.3948},{"s":"18000","i":38,"t":5600000,"v":3.45},{"s":"18000","i":38,"t":6500000,"v":3.3293},{"s":"18000","i":38,"t":7500000,"v":3.0015},{"s":"18000","i":38,"t":8300000,"v":2.7255},{"s":"18000","i":38,"t":10000000,"v":1.43},
{"s":"18000","i":39,"t":100000,"v":0.0317},{"s":"18000","i":39,"t":200000,"v":0.1126},{"s":"18000","i":39,"t":300000,"v":0.2112},{"s":"18000","i":39,"t":500000,"v":0.4752},{"s":"18000","i":39,"t":700000,"v":0.7674},{"s":"18000","i":39,"t":1000000,"v":1.1792},{"s":"18000","i":39,"t":1500000,"v":1.8832},{"s":"18000","i":39,"t":2000000,"v":2.3408},{"s":"18000","i":39,"t":3000000,"v":2.8934},{"s":"18000","i":39,"t":4000000,"v":3.256},{"s":"18000","i":39,"t":5000000,"v":3.4566},{"s":"18000","i":39,"t":5600000,"v":3.52},{"s":"18000","i":39,"t":6500000,"v":3.4074},{"s":"18000","i":39,"t":7500000,"v":3.0976},{"s":"18000","i":39,"t":8300000,"v":2.816},{"s":"18000","i":39,"t":10000000,"v":1.48},
{"s":"18000","i":40,"t":100000,"v":0.0395},{"s":"18000","i":40,"t":200000,"v":0.1364},{"s":"18000","i":40,"t":300000,"v":0.2513},{"s":"18000","i":40,"t":500000,"v":0.5457},{"s":"18000","i":40,"t":700000,"v":0.8616},{"s":"18000","i":40,"t":1000000,"v":1.2924},{"s":"18000","i":40,"t":1500000,"v":2.0104},{"s":"18000","i":40,"t":2000000,"v":2.4592},{"s":"18000","i":40,"t":3000000,"v":2.9977},{"s":"18000","i":40,"t":4000000,"v":3.3459},{"s":"18000","i":40,"t":5000000,"v":3.5326},{"s":"18000","i":40,"t":5600000,"v":3.59},{"s":"18000","i":40,"t":6500000,"v":3.4644},{"s":"18000","i":40,"t":7500000,"v":3.1233},{"s":"18000","i":40,"t":8300000,"v":2.8361},{"s":"18000","i":40,"t":10000000,"v":1.53},
{"s":"18000","i":49,"t":100000,"v":0.02},{"s":"18000","i":49,"t":200000,"v":0.07},{"s":"18000","i":49,"t":300000,"v":0.1325},{"s":"18000","i":49,"t":500000,"v":0.305},{"s":"18000","i":49,"t":700000,"v":0.5},{"s":"18000","i":49,"t":1000000,"v":0.7875},{"s":"18000","i":49,"t":1500000,"v":1.275},{"s":"18000","i":49,"t":2000000,"v":1.6125},{"s":"18000","i":49,"t":3000000,"v":2.025},{"s":"18000","i":49,"t":4000000,"v":2.295},{"s":"18000","i":49,"t":5000000,"v":2.45},{"s":"18000","i":49,"t":5600000,"v":2.5},{"s":"18000","i":49,"t":6500000,"v":2.425},{"s":"18000","i":49,"t":7500000,"v":2.2125},{"s":"18000","i":49,"t":8300000,"v":2.0125},{"s":"18000","i":49,"t":10000000,"v":0.82},
{"s":"18000","i":50,"t":100000,"v":0.0208},{"s":"18000","i":50,"t":200000,"v":0.0728},{"s":"18000","i":50,"t":300000,"v":0.1378},{"s":"18000","i":50,"t":500000,"v":0.3172},{"s":"18000","i":50,"t":700000,"v":0.52},{"s":"18000","i":50,"t":1000000,"v":0.819},{"s":"18000","i":50,"t":1500000,"v":1.326},{"s":"18000","i":50,"t":2000000,"v":1.677},{"s":"18000","i":50,"t":3000000,"v":2.106},{"s":"18000","i":50,"t":4000000,"v":2.3868},{"s":"18000","i":50,"t":5000000,"v":2.548},{"s":"18000","i":50,"t":5600000,"v":2.6},{"s":"18000","i":50,"t":6500000,"v":2.522},{"s":"18000","i":50,"t":7500000,"v":2.301},{"s":"18000","i":50,"t":8300000,"v":2.093},{"s":"18000","i":50,"t":10000000,"v":0.87},
{"s":"18000","i":51,"t":100000,"v":0.0216},{"s":"18000","i":51,"t":200000,"v":0.0756},{"s":"18000","i":51,"t":300000,"v":0.1431},{"s":"18000","i":51,"t":500000,"v":0.3294},{"s":"18000","i":51,"t":700000,"v":0.54},{"s":"18000","i":51,"t":1000000,"v":0.8505},{"s":"18000","i":51,"t":1500000,"v":1.377},{"s":"18000","i":51,"t":2000000,"v":1.7415},{"s":"18000","i":51,"t":3000000,"v":2.187},{"s":"18000","i":51,"t":4000000,"v":2.4786},{"s":"18000","i":51,"t":5000000,"v":2.646},{"s":"18000","i":51,"t":5600000,"v":2.7},{"s":"18000","i":51,"t":6500000,"v":2.619},{"s":"18000","i":51,"t":7500000,"v":2.3895},{"s":"18000","i":51,"t":8300000,"v":2.1735},{"s":"18000","i":51,"t":10000000,"v":0.91},
{"s":"18000","i":52,"t":100000,"v":0.0224},{"s":"18000","i":52,"t":200000,"v":0.0784},{"s":"18000","i":52,"t":300000,"v":0.1484},{"s":"18000","i":52,"t":500000,"v":0.3416},{"s":"18000","i":52,"t":700000,"v":0.56},{"s":"18000","i":52,"t":1000000,"v":0.882},{"s":"18000","i":52,"t":1500000,"v":1.428},{"s":"18000","i":52,"t":2000000,"v":1.806},{"s":"18000","i":52,"t":3000000,"v":2.268},{"s":"18000","i":52,"t":4000000,"v":2.5704},{"s":"18000","i":52,"t":5000000,"v":2.744},{"s":"18000","i":52,"t":5600000,"v":2.8},{"s":"18000","i":52,"t":6500000,"v":2.716},{"s":"18000","i":52,"t":7500000,"v":2.478},{"s":"18000","i":52,"t":8300000,"v":2.254},{"s":"18000","i":52,"t":10000000,"v":0.99},
{"s":"18000","i":53,"t":100000,"v":0.0232},{"s":"18000","i":53,"t":200000,"v":0.0812},{"s":"18000","i":53,"t":300000,"v":0.1537},{"s":"18000","i":53,"t":500000,"v":0.3538},{"s":"18000","i":53,"t":700000,"v":0.58},{"s":"18000","i":53,"t":1000000,"v":0.9135},{"s":"18000","i":53,"t":1500000,"v":1.479},{"s":"18000","i":53,"t":2000000,"v":1.8705},{"s":"18000","i":53,"t":3000000,"v":2.349},{"s":"18000","i":53,"t":4000000,"v":2.6622},{"s":"18000","i":53,"t":5000000,"v":2.842},{"s":"18000","i":53,"t":5600000,"v":2.9},{"s":"18000","i":53,"t":6500000,"v":2.813},{"s":"18000","i":53,"t":7500000,"v":2.5665},{"s":"18000","i":53,"t":8300000,"v":2.3345},{"s":"18000","i":53,"t":10000000,"v":1.03},
{"s":"18000","i":54,"t":100000,"v":0.024},{"s":"18000","i":54,"t":200000,"v":0.084},{"s":"18000","i":54,"t":300000,"v":0.159},{"s":"18000","i":54,"t":500000,"v":0.366},{"s":"18000","i":54,"t":700000,"v":0.6},{"s":"18000","i":54,"t":1000000,"v":0.945},{"s":"18000","i":54,"t":1500000,"v":1.53},{"s":"18000","i":54,"t":2000000,"v":1.935},{"s":"18000","i":54,"t":3000000,"v":2.43},{"s":"18000","i":54,"t":4000000,"v":2.754},{"s":"18000","i":54,"t":5000000,"v":2.94},{"s":"18000","i":54,"t":5600000,"v":3.0},{"s":"18000","i":54,"t":6500000,"v":2.91},{"s":"18000","i":54,"t":7500000,"v":2.655},{"s":"18000","i":54,"t":8300000,"v":2.415},{"s":"18000","i":54,"t":10000000,"v":1.11},
{"s":"18000","i":55,"t":100000,"v":0.0248},{"s":"18000","i":55,"t":200000,"v":0.0868},{"s":"18000","i":55,"t":300000,"v":0.1643},{"s":"18000","i":55,"t":500000,"v":0.3782},{"s":"18000","i":55,"t":700000,"v":0.62},{"s":"18000","i":55,"t":1000000,"v":0.9765},{"s":"18000","i":55,"t":1500000,"v":1.581},{"s":"18000","i":55,"t":2000000,"v":1.9995},{"s":"18000","i":55,"t":3000000,"v":2.511},{"s":"18000","i":55,"t":4000000,"v":2.8458},{"s":"18000","i":55,"t":5000000,"v":3.038},{"s":"18000","i":55,"t":5600000,"v":3.1},{"s":"18000","i":55,"t":6500000,"v":3.007},{"s":"18000","i":55,"t":7500000,"v":2.7435},{"s":"18000","i":55,"t":8300000,"v":2.4955},{"s":"18000","i":55,"t":10000000,"v":1.19},
{"s":"18000","i":56,"t":100000,"v":0.0264},{"s":"18000","i":56,"t":200000,"v":0.0924},{"s":"18000","i":56,"t":300000,"v":0.1749},{"s":"18000","i":56,"t":500000,"v":0.4026},{"s":"18000","i":56,"t":700000,"v":0.66},{"s":"18000","i":56,"t":1000000,"v":1.0395},{"s":"18000","i":56,"t":1500000,"v":1.683},{"s":"18000","i":56,"t":2000000,"v":2.1285},{"s":"18000","i":56,"t":3000000,"v":2.673},{"s":"18000","i":56,"t":4000000,"v":3.0294},{"s":"18000","i":56,"t":5000000,"v":3.234},{"s":"18000","i":56,"t":5600000,"v":3.3},{"s":"18000","i":56,"t":6500000,"v":3.201},{"s":"18000","i":56,"t":7500000,"v":2.9205},{"s":"18000","i":56,"t":8300000,"v":2.6565},{"s":"18000","i":56,"t":10000000,"v":1.31}
]},
"encoding":{
"x":{"field":"t","type":"quantitative","scale":{"type":"log","domain":[100000,11170000],"nice":false},
"axis":{"title":"Time (yr)","values":[100000,200000,300000,400000,500000,600000,700000,800000,900000,1000000,2000000,3000000,4000000,5000000,6000000,7000000,8000000,9000000,10000000],
"labelExpr":"datum.value == 100000 ? '1 × 10⁵' : datum.value == 1000000 ? '1 × 10⁶' : datum.value == 10000000 ? '1 × 10⁷' : ''",
"tickSize":{"condition":{"test":"datum.value == 100000 || datum.value == 1000000 || datum.value == 10000000","value":9},"value":5},
"grid":false,"domainColor":"#222","tickColor":"#222","labelColor":"#222","labelFontSize":21,"labelPadding":10,"labelFlush":false,"labelOverlap":false,
"titleFontSize":24,"titleFontWeight":"normal","titleColor":"#222","titleX":230,"titleY":71,"titleBaseline":"alphabetic","titleAlign":"center"}},
"y":{"field":"v","type":"quantitative","scale":{"domain":[0,4],"nice":false},
"axis":{"title":"Release Rate (mol/yr)","values":[0,0.5,1,1.5,2,2.5,3,3.5,4],
"labelExpr":"datum.value == 0 ? '0' : (datum.value % 1 == 0 ? datum.value + ' × 10⁻⁷' : '')",
"tickSize":{"condition":{"test":"datum.value % 1 == 0","value":9},"value":5},
"grid":false,"domainColor":"#222","tickColor":"#222","labelColor":"#222","labelFontSize":22,"labelPadding":2,"labelFlush":false,"labelOverlap":false,
"titleFontSize":24,"titleFontWeight":"normal","titleColor":"#222","titleX":-108,"titleY":132,"titleAngle":-90,"titleBaseline":"middle","titleAlign":"center"}},
"color":{"field":"s","type":"nominal","scale":{"domain":["8000","18000"],"range":["#ED1C24","#1F3E98"]},
"legend":{"orient":"none","legendX":37,"legendY":2,"title":null,"labelExpr":"datum.label + ' Fracture'","strokeColor":"#222","fillColor":"white","padding":16,"symbolType":"M-2,0H2","symbolSize":361,"symbolOffset":5.5,"symbolStrokeWidth":1,"symbolOpacity":0.75,"symbolFillColor":"transparent","labelFontSize":18,"labelColor":"#222","labelAlign":"right","labelLimit":0,"labelOffset":135,"rowPadding":1}},
"detail":{"field":"i","type":"nominal"}
},
"layer":[
{"transform":[{"filter":"datum.s == '18000'"}],"mark":{"type":"line","interpolate":"monotone","strokeWidth":1.5,"clip":true}},
{"transform":[{"filter":"datum.s == '8000'"}],"mark":{"type":"line","interpolate":"monotone","strokeWidth":1.5,"clip":true}}
]
}
